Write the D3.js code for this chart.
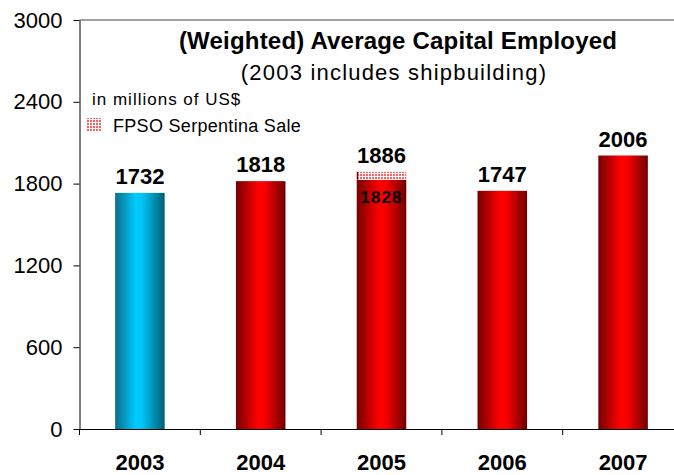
<!DOCTYPE html>
<html lang="en">
<head>
    <meta charset="UTF-8">
    <title>(Weighted) Average Capital Employed</title>
    <script src="https://d3js.org/d3.v7.min.js"></script>
    <style>
        body {
            margin: 0;
            background: #fff;
            font-family: "Liberation Sans", Arial, sans-serif;
        }
        .tick text {
            font-family: "Liberation Sans", Arial, sans-serif;
        }
        .value {
            font-weight: bold;
            font-size: 22px;
        }
    </style>
</head>
<body>
    <div id="chart"></div>
    <script>
        // chart data
        var years = ["2003", "2004", "2005", "2006", "2007"];
        var capital = [1732, 1818, 1886, 1747, 2006];
        var baseValues = [1732, 1818, 1828, 1747, 2006]; // solid part of each bar
        var yTicks = [0, 600, 1200, 1800, 2400, 3000];

        var width = 674,
            height = 475;

        var svg = d3.select("#chart").append("svg")
            .attr("width", width)
            .attr("height", height);

        var defs = svg.append("defs");

        function addGradient(id, stops) {
            var g = defs.append("linearGradient")
                .attr("id", id)
                .attr("x1", "0%").attr("x2", "100%")
                .attr("y1", "0%").attr("y2", "0%");
            stops.forEach(function(s) {
                g.append("stop").attr("offset", s[0]).attr("stop-color", s[1]);
            });
        }
        addGradient("cyanGrad", [["0%", "#0b6e8a"], ["42%", "#00ccff"], ["55%", "#00c4f5"], ["100%", "#005e72"]]);
        addGradient("redGrad", [["0%", "#750000"], ["45%", "#ff0000"], ["58%", "#f80000"], ["100%", "#700000"]]);

        // dotted pattern for the Serpentina sale
        var pat = defs.append("pattern")
            .attr("id", "dots")
            .attr("width", 3).attr("height", 3)
            .attr("patternUnits", "userSpaceOnUse");
        pat.append("rect").attr("width", 3).attr("height", 3).attr("fill", "#fff");
        pat.append("rect").attr("width", 2).attr("height", 2).attr("fill", "#ff6060");

        var x = d3.scaleBand()
            .domain(years)
            .range([79.5, 683.5])
            .paddingInner(0.59)
            .paddingOuter(0.295);

        var y = d3.scaleLinear()
            .domain([0, 3000])
            .range([429, 20]);

        // top border of plot area
        svg.append("line")
            .attr("x1", 79.5).attr("x2", width)
            .attr("y1", y(3000)).attr("y2", y(3000))
            .attr("stroke", "#808080")
            .attr("stroke-width", 1.5);

        // bars
        svg.selectAll(".bar")
            .data(years)
            .enter().append("rect")
            .attr("class", "bar")
            .attr("x", function(d) { return x(d); })
            .attr("width", x.bandwidth())
            .attr("y", function(d, i) { return y(baseValues[i]); })
            .attr("height", function(d, i) { return y(0) - y(baseValues[i]); })
            .attr("fill", function(d, i) { return i === 0 ? "url(#cyanGrad)" : "url(#redGrad)"; });

        // hatched sale part
        var saleIdx = years.indexOf("2005");
        svg.append("rect")
            .attr("x", x("2005"))
            .attr("width", x.bandwidth())
            .attr("y", y(capital[saleIdx]))
            .attr("height", y(baseValues[saleIdx]) - y(capital[saleIdx]))
            .attr("fill", "url(#dots)");
        svg.append("line")
            .attr("x1", x("2005") + 0.75).attr("x2", x("2005") + 0.75)
            .attr("y1", y(capital[saleIdx])).attr("y2", y(baseValues[saleIdx]))
            .attr("stroke", "#800000")
            .attr("stroke-width", 1.5);

        // value labels
        svg.selectAll(".value")
            .data(years)
            .enter().append("text")
            .attr("class", "value")
            .attr("x", function(d) { return x(d) + x.bandwidth() / 2; })
            .attr("y", function(d, i) { return y(capital[i]) - 9; })
            .attr("text-anchor", "middle")
            .text(function(d, i) { return capital[i]; });

        svg.append("text")
            .attr("x", x("2005") + x.bandwidth() / 2)
            .attr("y", y(baseValues[saleIdx]) + 23)
            .attr("text-anchor", "middle")
            .style("font-weight", "bold")
            .style("font-size", "17px")
            .style("letter-spacing", "1px")
            .text(baseValues[saleIdx]);

        // y axis
        var yAxis = svg.append("g")
            .attr("transform", "translate(79.5,0)")
            .call(d3.axisLeft(y).tickValues(yTicks).tickFormat(d3.format("d"))
                .tickSize(6).tickSizeOuter(0).tickPadding(11));
        yAxis.selectAll("text").style("font-size", "22px").attr("fill", "#000");
        yAxis.selectAll("line, path").attr("stroke", "#000");

        // x axis
        var xAxis = svg.append("g")
            .attr("transform", "translate(0,429)")
            .call(d3.axisBottom(x).tickSize(0).tickSizeOuter(0).tickPadding(0));
        xAxis.select(".domain").attr("stroke", "#000").attr("d", "M79.5,0.5H" + width);
        xAxis.selectAll("text")
            .attr("y", 41)
            .attr("dy", null)
            .attr("fill", "#000")
            .style("font-size", "22px")
            .style("font-weight", "bold");

        // category boundary ticks
        var step = x.step();
        var bounds = years.map(function(d) { return x(d) - x.paddingOuter() * step; });
        svg.selectAll(".xtick")
            .data(bounds)
            .enter().append("line")
            .attr("class", "xtick")
            .attr("x1", function(d) { return d; })
            .attr("x2", function(d) { return d; })
            .attr("y1", 429).attr("y2", 435)
            .attr("stroke", "#000");

        // titles
        svg.append("text")
            .attr("x", 398).attr("y", 49)
            .attr("text-anchor", "middle")
            .style("font-weight", "bold")
            .style("font-size", "24px")
            .style("letter-spacing", "0.2px")
            .text("(Weighted) Average Capital Employed");

        svg.append("text")
            .attr("x", 394).attr("y", 80)
            .attr("text-anchor", "middle")
            .style("font-size", "22px")
            .style("letter-spacing", "1.2px")
            .text("(2003 includes shipbuilding)");

        svg.append("text")
            .attr("x", 92).attr("y", 105)
            .style("font-size", "17px")
            .style("letter-spacing", "1px")
            .text("in millions of US$");

        // legend
        svg.append("rect")
            .attr("x", 87).attr("y", 118)
            .attr("width", 14).attr("height", 14)
            .attr("fill", "url(#dots)");
        svg.append("text")
            .attr("x", 113).attr("y", 132)
            .style("font-size", "18px")
            .style("letter-spacing", "0.3px")
            .text("FPSO Serpentina Sale");
    </script>
</body>
</html>
